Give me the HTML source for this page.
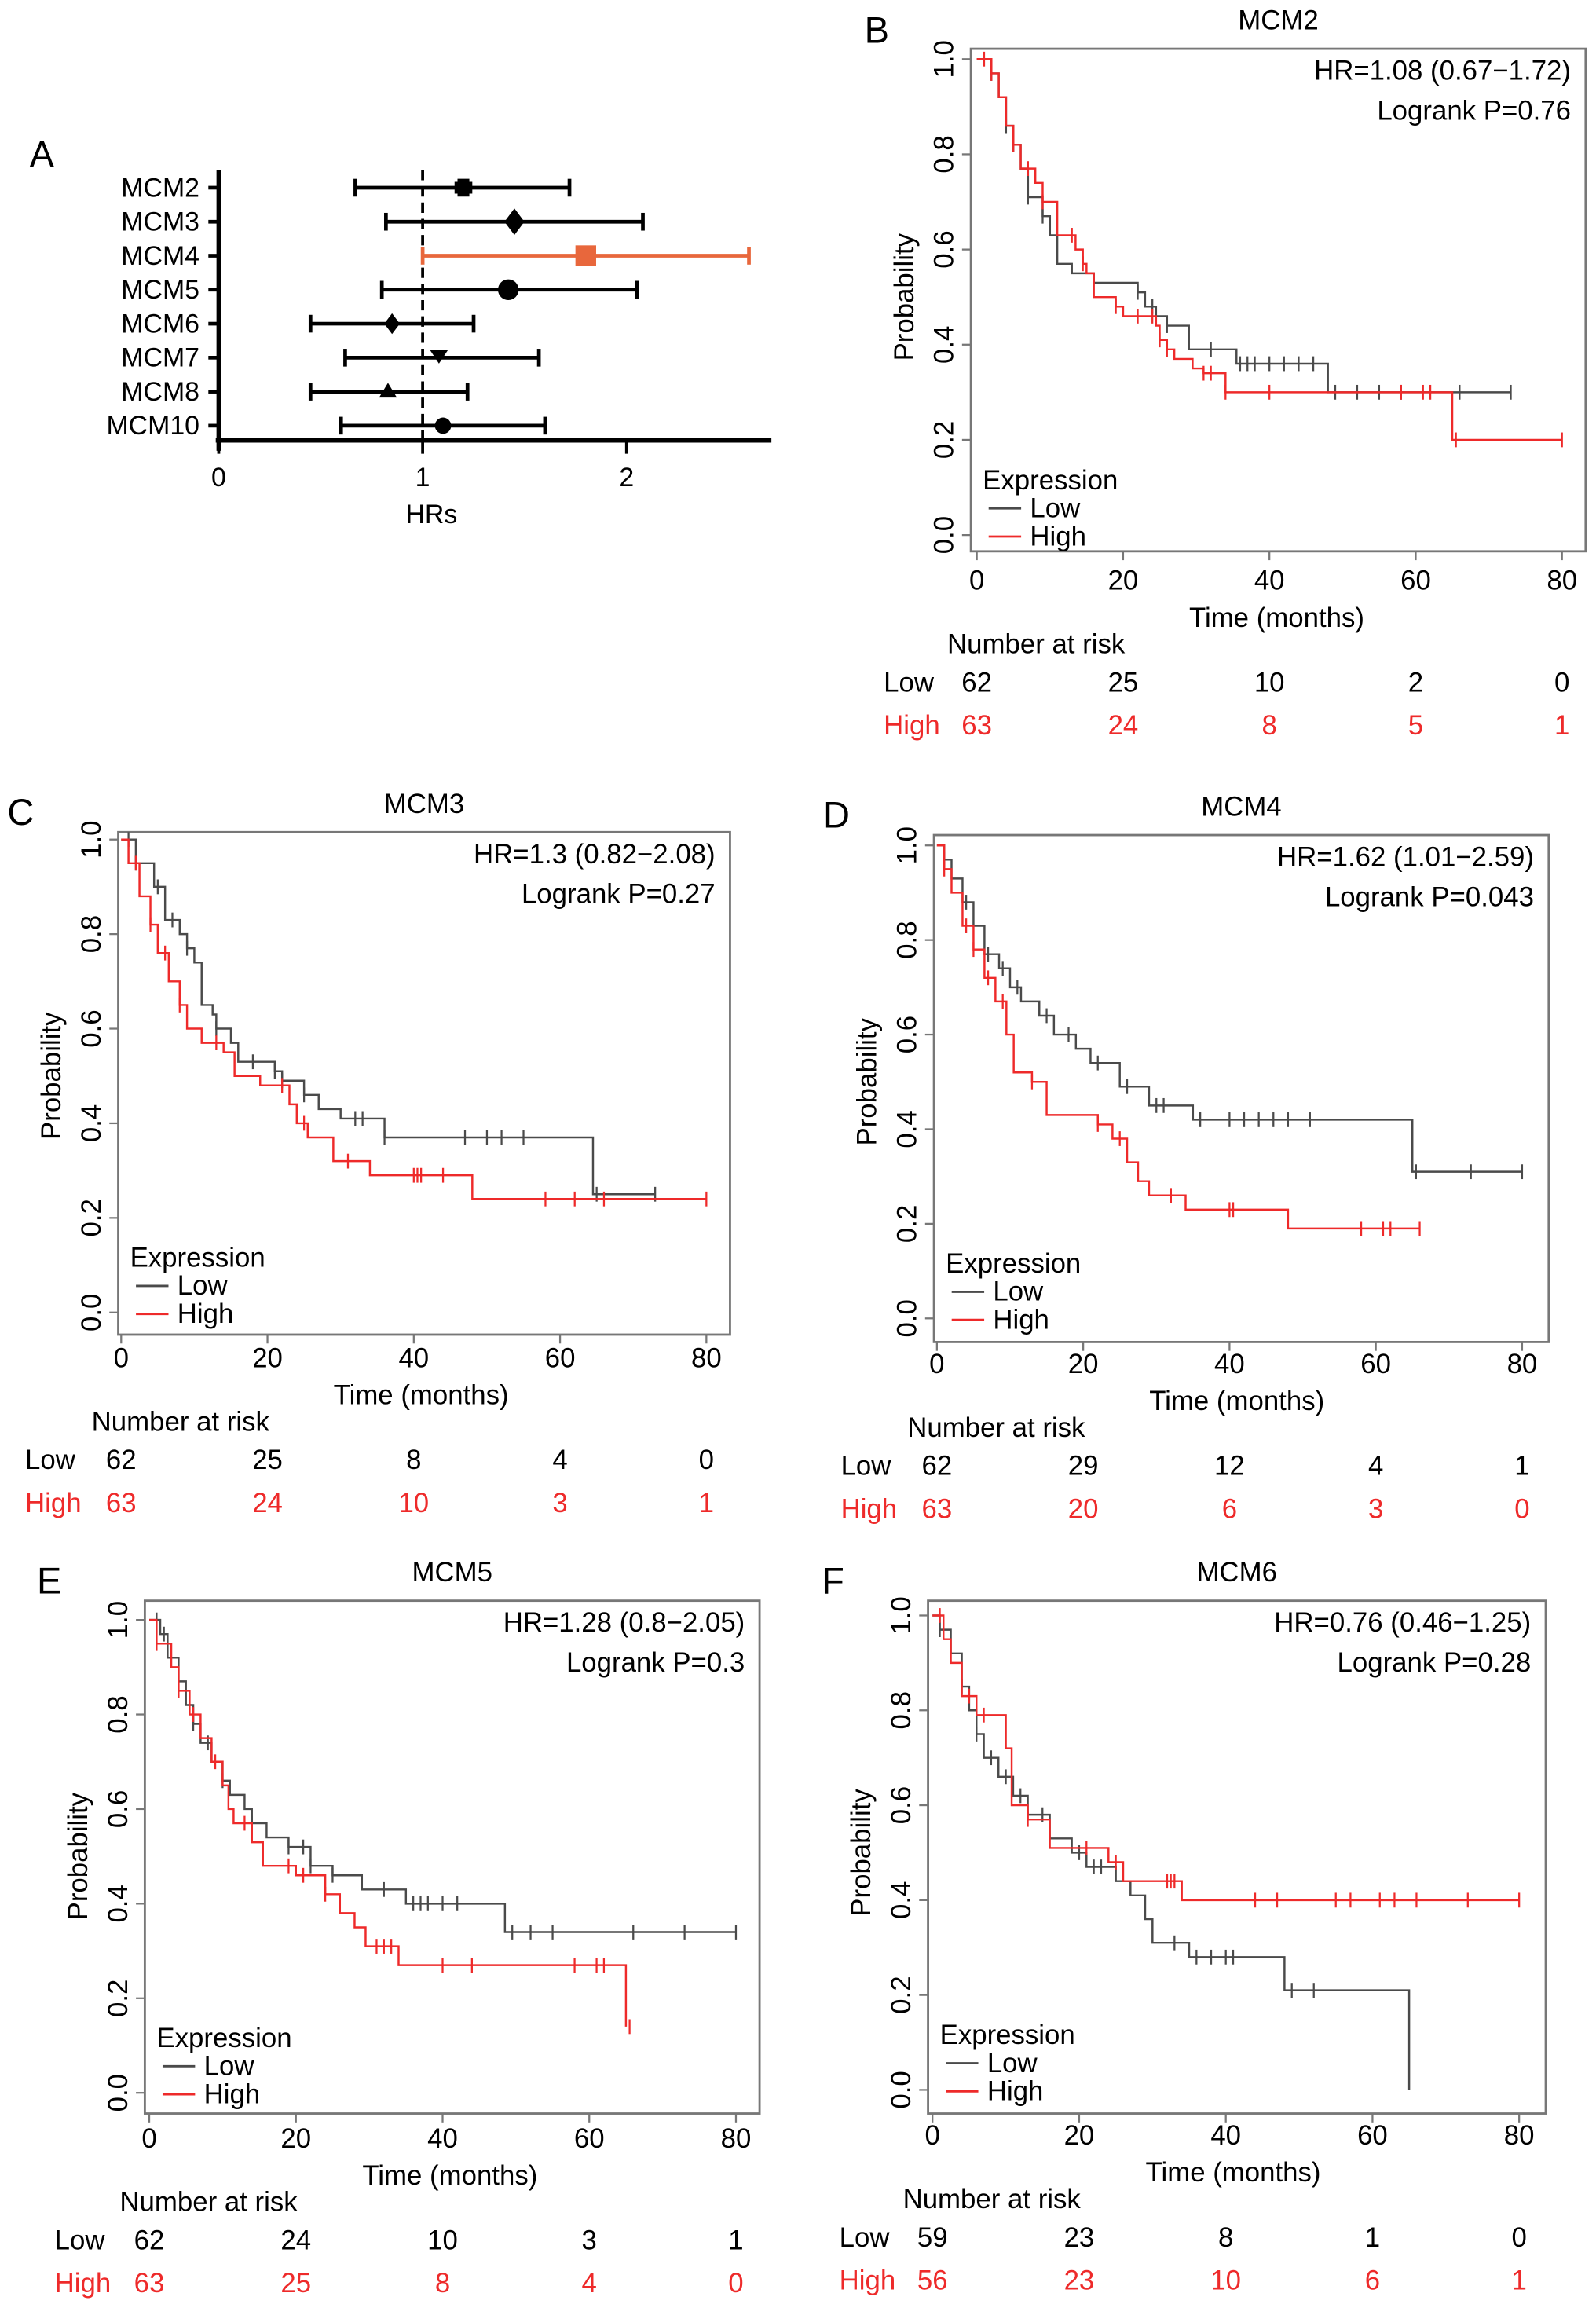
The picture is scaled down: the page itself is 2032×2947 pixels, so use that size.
<!DOCTYPE html>
<html><head><meta charset="utf-8">
<style>
html,body{margin:0;padding:0;background:#fff;}
svg{display:block;font-family:"Liberation Sans",Arial,sans-serif;}
</style></head>
<body>
<svg id="fig" width="2032" height="2947" viewBox="0 0 1080 1566.3" xmlns="http://www.w3.org/2000/svg"></svg>
<script>
// ---------- Forest plot data ----------
const genes = ["MCM2","MCM3","MCM4","MCM5","MCM6","MCM7","MCM8","MCM10"];
const hrVals = [1.2,1.45,1.8,1.42,0.85,1.08,0.83,1.1];
const hrLow = [0.67,0.82,1.0,0.8,0.45,0.62,0.45,0.6];
const hrHigh = [1.72,2.08,2.6,2.05,1.25,1.57,1.22,1.6];
const hrShapes = ["star","diamond","square","circle","diamond","tridown","triup","circle"];
const hrTicks = [0,1,2];

// ---------- KM data (time, prob) steps ----------
const bLow = [[0,1],[2,0.97],[3,0.92],[4,0.86],[5,0.82],[6,0.77],[7,0.71],[9,0.67],[10,0.63],[11,0.57],[13,0.55],[16,0.53],[22,0.51],[23,0.48],[24.5,0.46],[26,0.44],[29,0.39],[35.5,0.36],[48,0.30],[73,0.30]];
const bHigh = [[0,1],[2,0.97],[3,0.92],[4,0.86],[5,0.82],[6,0.77],[8,0.74],[9,0.70],[11,0.63],[13.5,0.6],[14.5,0.57],[15,0.55],[16,0.50],[19,0.48],[20,0.46],[24.5,0.44],[25,0.41],[26,0.39],[27,0.37],[29.5,0.35],[31,0.34],[34,0.30],[65,0.20],[80,0.20]];
const bLowC = [2,4,5,7,9,22,24,26,32,36,37,38,40,42,44,46,49,52,55,58,66,73];
const bHighC = [1,2,5,7,9,13,14.5,19,22,24,25,26,31,32,34,40,58,61,62,65.5,80];

const cLow = [[0,1],[2,0.95],[4.5,0.9],[6,0.83],[8,0.8],[9,0.77],[10,0.74],[11,0.65],[12.5,0.63],[13,0.6],[15,0.57],[16,0.53],[21,0.51],[22,0.49],[25,0.46],[27,0.43],[30,0.41],[36,0.37],[64.5,0.25],[73,0.25]];
const cHigh = [[0,1],[1,0.95],[2.5,0.88],[4,0.82],[5,0.76],[6.5,0.7],[8,0.65],[9,0.6],[11,0.57],[14,0.55],[15.5,0.5],[19,0.48],[23,0.44],[24,0.4],[25.5,0.37],[29,0.32],[34,0.29],[48,0.24],[80,0.24]];
const cLowC = [1,2,5,7,9,13,18,21,22,25,32,33,36,47,50,52,55,65,73];
const cHighC = [2,4,6,8,13,22,25,31,40,40.5,41,44,58,62,66,80];

const dLow = [[0,1],[1,0.97],[2,0.93],[3.5,0.88],[5,0.83],[6.5,0.77],[8.5,0.74],[10,0.7],[11.5,0.67],[14,0.64],[16,0.6],[19,0.57],[21,0.54],[25,0.49],[29,0.45],[35,0.42],[65,0.31],[80,0.31]];
const dHigh = [[0,1],[1,0.95],[2,0.9],[3.5,0.83],[5,0.78],[6.5,0.72],[8,0.67],[9.5,0.6],[10.5,0.52],[13,0.5],[15,0.43],[22,0.41],[24,0.38],[26,0.33],[27.5,0.29],[29,0.26],[34,0.23],[48,0.19],[66,0.19]];
const dLowC = [1,4,7,9,11,15,18,22,26,30,31,36,40,42,44,46,48,51,65.5,73,80];
const dHighC = [1,4,5,7,9,13,22,25,32,40,40.5,58,61,62,66];

const eLow = [[0,1],[1.5,0.97],[2.5,0.92],[4,0.87],[5,0.82],[6,0.78],[7,0.74],[8.5,0.7],[10,0.66],[11,0.63],[13,0.6],[14,0.57],[16,0.54],[19,0.52],[22,0.48],[25,0.46],[29,0.43],[35,0.40],[48.5,0.34],[80,0.34]];
const eHigh = [[0,1],[1,0.95],[3,0.9],[4,0.85],[5.5,0.8],[7,0.75],[8.5,0.7],[10,0.65],[10.8,0.6],[11.5,0.57],[14,0.53],[15.5,0.48],[20,0.46],[24,0.42],[26,0.38],[28,0.35],[29.5,0.31],[34,0.27],[65,0.14],[65,0.14]];
const eLowC = [1,2,4,6,8,10,14,19,21,22,25,32,36,37,38,40,42,49.5,52,55,66,73,80];
const eHighC = [1,4,6,9,13,19,21,24,31,32,33,40,44,58,61,62,65.5];

const fLow = [[0,1],[1,0.97],[2.5,0.92],[4,0.85],[5,0.8],[6,0.75],[7,0.7],[9,0.66],[11,0.62],[13,0.58],[16,0.53],[19,0.5],[21,0.47],[25,0.44],[27,0.41],[29,0.36],[30,0.31],[35,0.28],[48,0.21],[65,0.0]];
const fHigh = [[0,1],[1.5,0.95],[2.5,0.9],[4,0.83],[6,0.79],[10,0.72],[10.8,0.6],[13,0.57],[16,0.51],[24,0.48],[26,0.44],[34,0.40],[80,0.40]];
const fLowC = [1,4,6,8,10,12,15,20,22,23,33,36,38,40,41,49,52];
const fHighC = [1,5,7,13,21,25,32,32.5,33,44,47,55,57,61,63,66,73,80];

const xTicks = [0,20,40,60,80];
const yTicks = [0,0.2,0.4,0.6,0.8,1.0];

const panels = [
 {id:"B",title:"MCM2",hr:"HR=1.08 (0.67\u22121.72)",lr:"Logrank P=0.76",box:[657,33,1073,373],x0:661,x80:1057,y1:40,y0:362,low:bLow,high:bHigh,lowC:bLowC,highC:bHighC,rLow:[62,25,10,2,0],rHigh:[63,24,8,5,1],lx:598},
 {id:"C",title:"MCM3",hr:"HR=1.3 (0.82\u22122.08)",lr:"Logrank P=0.27",box:[80,563,494,903],x0:82,x80:478,y1:568,y0:888,low:cLow,high:cHigh,lowC:cLowC,highC:cHighC,rLow:[62,25,8,4,0],rHigh:[63,24,10,3,1],lx:17},
 {id:"D",title:"MCM4",hr:"HR=1.62 (1.01\u22122.59)",lr:"Logrank P=0.043",box:[632,565,1048,908],x0:634,x80:1030,y1:572,y0:892,low:dLow,high:dHigh,lowC:dLowC,highC:dHighC,rLow:[62,29,12,4,1],rHigh:[63,20,6,3,0],lx:569},
 {id:"E",title:"MCM5",hr:"HR=1.28 (0.8\u22122.05)",lr:"Logrank P=0.3",box:[98,1083,514,1430],x0:101,x80:498,y1:1096,y0:1416,low:eLow,high:eHigh,lowC:eLowC,highC:eHighC,rLow:[62,24,10,3,1],rHigh:[63,25,8,4,0],lx:37},
 {id:"F",title:"MCM6",hr:"HR=0.76 (0.46\u22121.25)",lr:"Logrank P=0.28",box:[628,1083,1046,1430],x0:631,x80:1028,y1:1093,y0:1414,low:fLow,high:fHigh,lowC:fLowC,highC:fHighC,rLow:[59,23,8,1,0],rHigh:[56,23,10,6,1],lx:568}
];

const NS="http://www.w3.org/2000/svg";
const svg=document.getElementById('fig');
function mk(tag,attrs,parent,text){const e=document.createElementNS(NS,tag);for(const k in attrs)e.setAttribute(k,attrs[k]);if(text!==undefined)e.textContent=text;(parent||svg).appendChild(e);return e;}
const RED="#ee2a2a", GRAY="#4a4a4a", ORANGE="#e8673c";
const FS=18.5;

// ---------- Panel A ----------
const gA=mk('g',{});


const fx=v=>148+v*138;
const fy=i=>127+i*23;
let t=mk('text',{x:20,y:113,'font-size':25},gA,'A');


let ax=mk('line',{x1:148,y1:115,x2:148,y2:305,stroke:'#000','stroke-width':3},gA);


ax=mk('line',{x1:146,y1:298,x2:522,y2:298,stroke:'#000','stroke-width':3},gA);


hrTicks.forEach(v=>{
 const tk=mk('line',{x1:fx(v),y1:298,x2:fx(v),y2:307,stroke:'#000','stroke-width':2},gA);
 
 
 const tl=mk('text',{x:fx(v),y:329,'font-size':18,'text-anchor':'middle'},gA,String(v));
 
 
});
t=mk('text',{x:292,y:354,'font-size':18,'text-anchor':'middle'},gA,'HRs');


const ref=mk('line',{x1:fx(1),y1:115,x2:fx(1),y2:298,stroke:'#000','stroke-width':2,'stroke-dasharray':'7,4'},gA);


genes.forEach((g,i)=>{
 const y=fy(i), col=hrShapes[i]==='square'?ORANGE:'#000';
 const lbl=mk('text',{x:135,y:y+6,'font-size':18,'text-anchor':'end'},gA,g);
 
 
 const tk=mk('line',{x1:141,y1:y,x2:148,y2:y,stroke:'#000','stroke-width':2.5},gA);
 
 
 const ci=mk('g',{stroke:col,'stroke-width':2.5},gA);
 
 
 mk('line',{x1:fx(hrLow[i]),y1:y,x2:fx(hrHigh[i]),y2:y},ci);
 mk('line',{x1:fx(hrLow[i]),y1:y-6,x2:fx(hrLow[i]),y2:y+6},ci);
 mk('line',{x1:fx(hrHigh[i]),y1:y-6,x2:fx(hrHigh[i]),y2:y+6},ci);
 const x=fx(hrVals[i]); let m;
 switch(hrShapes[i]){
  case 'star': m=mk('path',{d:`M${x-4},${y-6}h8v12h-8z M${x-6},${y-4}h12v8h-12z`,fill:'#000'},gA);break;
  case 'diamond': {const s=i===1?9:7; m=mk('polygon',{points:`${x},${y-s} ${x+s*0.75},${y} ${x},${y+s} ${x-s*0.75},${y}`,fill:'#000'},gA);break;}
  case 'square': m=mk('rect',{x:x-7,y:y-7,width:14,height:14,fill:ORANGE},gA);break;
  case 'circle': m=mk('circle',{cx:x,cy:y,r:i===3?7:5.5,fill:'#000'},gA);break;
  case 'tridown': m=mk('polygon',{points:`${x-6},${y-5} ${x+6},${y-5} ${x},${y+4}`,fill:'#000'},gA);break;
  case 'triup': m=mk('polygon',{points:`${x-6},${y+4} ${x+6},${y+4} ${x},${y-6}`,fill:'#000'},gA);break;
 }
 
 
});

// ---------- KM panels ----------
function stepY(arr,tt){let p=arr[0][1];for(const [tm,pv] of arr){if(tm<=tt)p=pv;else break;}return p;}
panels.forEach(P=>{
 const g=mk('g',{});
 
 
 const X=tm=>P.x0+tm*(P.x80-P.x0)/80;
 const Y=p=>P.y0-p*(P.y0-P.y1);
 const [bx1,by1,bx2,by2]=P.box;
 let e=mk('text',{x:P.lx-12,y:by1-5,'font-size':25},g,P.id);
 if(P.id==='B'){e.setAttribute('x',585);e.setAttribute('y',29);}
 
 
 e=mk('rect',{x:bx1,y:by1,width:bx2-bx1,height:by2-by1,fill:'none',stroke:'#777','stroke-width':1.5},g);
 
 
 e=mk('text',{x:(bx1+bx2)/2,y:by1-13,'font-size':FS,'text-anchor':'middle'},g,P.title);
 
 
 e=mk('text',{x:bx2-10,y:by1+21,'font-size':FS,'text-anchor':'end'},g,P.hr);
 
 
 e=mk('text',{x:bx2-10,y:by1+48,'font-size':FS,'text-anchor':'end'},g,P.lr);
 
 
 yTicks.forEach(v=>{
  const tk=mk('line',{x1:bx1-6,y1:Y(v),x2:bx1,y2:Y(v),stroke:'#777','stroke-width':1.2},g);
  
  
  const tl=mk('text',{x:0,y:0,'font-size':FS,'text-anchor':'middle',transform:`translate(${bx1-12},${Y(v)}) rotate(-90)`},g,v.toFixed(1));
  
  
 });
 e=mk('text',{x:0,y:0,'font-size':FS,'text-anchor':'middle',transform:`translate(${bx1-39},${(P.y0+P.y1)/2}) rotate(-90)`},g,'Probability');
 
 
 xTicks.forEach(v=>{
  const tk=mk('line',{x1:X(v),y1:by2,x2:X(v),y2:by2+6,stroke:'#777','stroke-width':1.2},g);
  
  
  const tl=mk('text',{x:X(v),y:P.y0+37,'font-size':FS,'text-anchor':'middle'},g,String(v));
  
  
 });
 e=mk('text',{x:X(41),y:P.y0+62,'font-size':FS,'text-anchor':'middle'},g,'Time (months)');
 
 
 [[P.low,P.lowC,GRAY,'low'],[P.high,P.highC,RED,'high']].forEach(([arr,cens,col,nm])=>{
  let d=`M${X(arr[0][0])},${Y(arr[0][1])}`;
  for(let i=1;i<arr.length;i++){d+=` H${X(arr[i][0])} V${Y(arr[i][1])}`;}
  const pth=mk('path',{d,fill:'none',stroke:col,'stroke-width':1.3},g);
  
  
  cens.forEach(tm=>{
   const yy=Y(stepY(arr,tm));
   const c=mk('line',{x1:X(tm),y1:yy-5,x2:X(tm),y2:yy+5,stroke:col,'stroke-width':1.2},g);
   
   
  });
 });
 const lx=bx1+8;
 e=mk('text',{x:lx,y:P.y0-31,'font-size':FS},g,'Expression');
 
 
 e=mk('line',{x1:lx+4,y1:P.y0-18,x2:lx+26,y2:P.y0-18,stroke:GRAY,'stroke-width':1.5},g);
 
 
 e=mk('text',{x:lx+32,y:P.y0-12,'font-size':FS},g,'Low');
 
 
 e=mk('line',{x1:lx+4,y1:P.y0+1,x2:lx+26,y2:P.y0+1,stroke:RED,'stroke-width':1.5},g);
 
 
 e=mk('text',{x:lx+32,y:P.y0+7,'font-size':FS},g,'High');
 
 
 e=mk('text',{x:P.x0-20,y:P.y0+80,'font-size':FS},g,'Number at risk');
 
 
 e=mk('text',{x:P.lx,y:P.y0+106,'font-size':FS},g,'Low');
 
 
 e=mk('text',{x:P.lx,y:P.y0+135,'font-size':FS,fill:RED},g,'High');
 
 
 xTicks.forEach((v,i)=>{
  const a=mk('text',{x:X(v),y:P.y0+106,'font-size':FS,'text-anchor':'middle'},g,String(P.rLow[i]));
  
  
  const b=mk('text',{x:X(v),y:P.y0+135,'font-size':FS,'text-anchor':'middle',fill:RED},g,String(P.rHigh[i]));
  
  
 });
});
</script>
</body></html>
